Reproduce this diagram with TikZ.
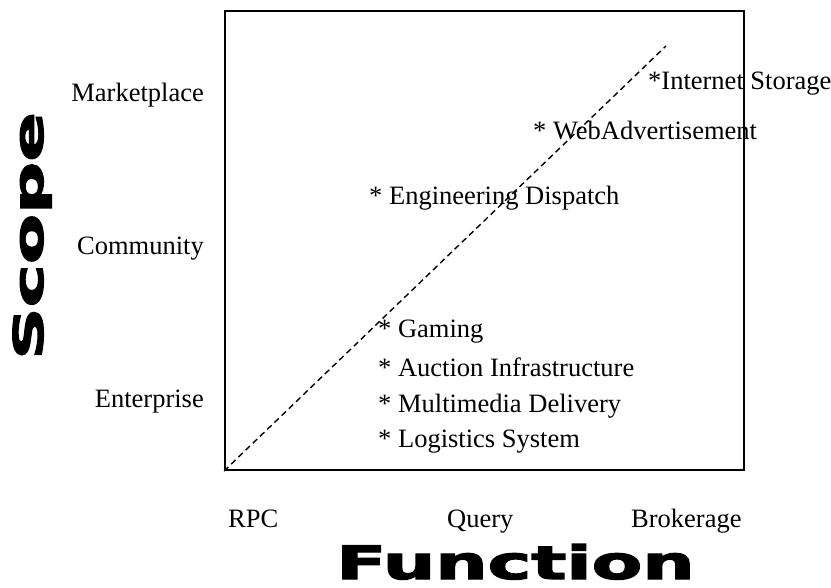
\documentclass[tikz,border=0pt]{standalone}
\usepackage{fontspec}
\setmainfont{Liberation Serif}
\newfontfamily\heavyfont[FakeBold=2.5]{DejaVu Sans Bold}
\begin{document}
\begin{tikzpicture}[x=1pt,y=-1pt,
  lbl/.style={inner sep=0pt, font=\fontsize{26.5}{30}\selectfont},
  item/.style={lbl, anchor=base west},
  ylbl/.style={lbl, anchor=base east},
  xlbl/.style={lbl, anchor=base west},
  frame/.style={draw, line width=2pt, inner sep=0pt, minimum width=519pt, minimum height=459pt},
  trend/.style={line width=1.4pt, dash pattern=on 6pt off 4pt}]
\useasboundingbox (0,0) rectangle (831,588);

% plotting area
\node[frame, anchor=north west] (plot) at (224,10) {};
\coordinate (trendEnd) at (666,46);
\draw[trend] (plot.south west) -- (trendEnd);

% scope levels
\node[ylbl] (market) at (204,102) {Marketplace};
\node[ylbl] (community) at (204,255) {Community};
\node[ylbl] (enterprise) at (204,407) {Enterprise};

% function levels
\node[xlbl] (rpc) at (228,527) {RPC};
\node[xlbl] (query) at (447,527) {Query};
\node[xlbl] (broker) at (631,527) {Brokerage};

% applications
\node[item] (storage) at (648,90) {*Internet Storage};
\node[item] (webadv) at (533,140) {* WebAdvertisement};
\node[item] (dispatch) at (369,205) {* Engineering Dispatch};
\node[item] (gaming) at (378,338) {* Gaming};
\node[item] (auction) at (378,377) {* Auction Infrastructure};
\node[item] (media) at (378,413) {* Multimedia Delivery};
\node[item] (logistics) at (378,447) {* Logistics System};

% axis titles
\node[inner sep=0pt, anchor=base west] (ftitle) at (336,579)
  {\scalebox{1.6}[1]{\heavyfont\fontsize{46}{50}\selectfont Function}};
\node[inner sep=0pt, rotate=90, anchor=base] (stitle) at (43,236)
  {\scalebox{1.78}[1]{\heavyfont\fontsize{41}{44}\selectfont Scope}};
\end{tikzpicture}
\end{document}
